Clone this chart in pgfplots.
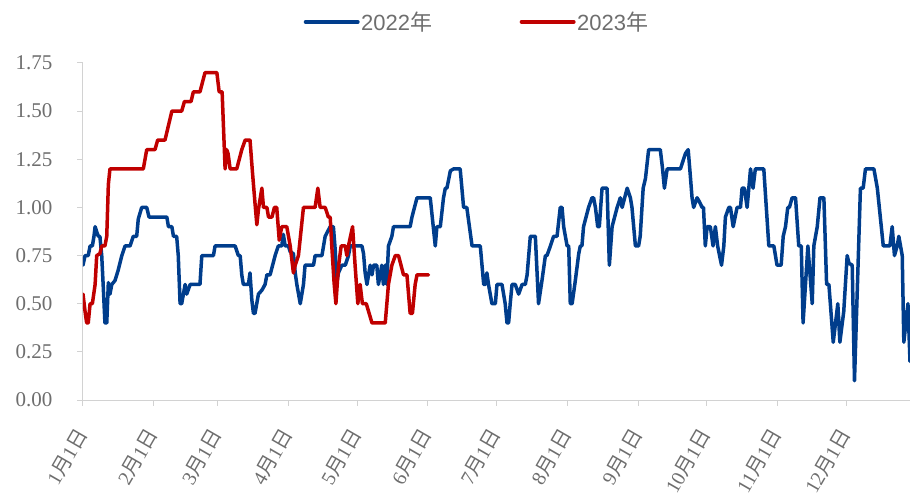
\documentclass[border=0pt]{standalone}
\usepackage{fontspec}
\setmainfont{Liberation Serif}
\newfontfamily\cjk{Noto Sans CJK SC}
\newfontfamily\lsans{Liberation Sans}
\usepackage{pgfplots}
\pgfplotsset{compat=1.18}
\definecolor{cblue}{RGB}{0,61,140}
\definecolor{cred}{RGB}{192,0,0}
\definecolor{tgray}{RGB}{110,110,110}
\definecolor{agray}{RGB}{210,210,210}
\newcommand{\md}[2]{#1{\cjk 月}#2{\cjk 日}}
\begin{document}
\begin{tikzpicture}
\begin{axis}[
  scale only axis, width=827bp, height=337bp,
  xmin=0, xmax=362, ymin=0, ymax=1.75,
  axis lines*=left,
  axis line style={agray, line width=1bp},
  tick style={agray, line width=1bp},
  tick align=outside, major tick length=5.5bp,
  ytick={0,0.25,0.5,0.75,1,1.25,1.5,1.75},
  /pgf/number format/fixed, /pgf/number format/fixed zerofill, /pgf/number format/precision=2,
  /pgf/number format/assume math mode=true,
  y tick label style={font=\fontsize{21bp}{24bp}\selectfont, text=tgray, inner sep=0pt, anchor=east, xshift=-25bp},
  xtick={0,31,59,90,120,151,181,212,243,273,304,334},
  xticklabels={\md{1}{1},\md{2}{1},\md{3}{1},\md{4}{1},\md{5}{1},\md{6}{1},\md{7}{1},\md{8}{1},\md{9}{1},\md{10}{1},\md{11}{1},\md{12}{1}},
  x tick label style={font=\fontsize{20bp}{24bp}\selectfont, text=tgray, inner sep=0pt, xshift=-1bp, yshift=-25bp, rotate=60, anchor=east},
  legend style={at={(0.476,1.122)}, anchor=center, draw=none, fill=none, legend columns=2,
    font=\lsans\fontsize{22bp}{26bp}\selectfont, text=tgray,
    /tikz/every even column/.append style={column sep=86bp},
    nodes={inner sep=1.5bp}},
  legend image code/.code={\draw[#1, line width=4bp] (0bp,0bp) -- (52bp,0bp);},
  every axis plot/.append style={line width=3.5bp, line join=round, line cap=round},
]
\addplot[cblue] coordinates {(0,0.70)(0.9,0.75)(2.3,0.75)(3.1,0.80)(4.1,0.80)(4.8,0.85)(5.3,0.90)(6.1,0.87)(6.7,0.85)(7.4,0.85)(8.2,0.75)(8.9,0.58)(9.6,0.40)(10.4,0.40)(11.1,0.61)(11.8,0.55)(12.6,0.60)(14.0,0.62)(15.3,0.67)(17.0,0.75)(18.4,0.80)(20.6,0.80)(22.0,0.85)(23.5,0.85)(24.2,0.94)(25.7,1.00)(27.9,1.00)(28.9,0.95)(36.7,0.95)(37.4,0.90)(38.9,0.90)(39.6,0.85)(41.0,0.85)(41.7,0.75)(42.5,0.50)(43.2,0.50)(44.7,0.60)(45.4,0.55)(46.9,0.60)(51.2,0.60)(52.0,0.75)(57.1,0.75)(57.8,0.80)(66.6,0.80)(68.0,0.75)(68.8,0.75)(69.5,0.65)(70.2,0.60)(72.4,0.60)(73.1,0.66)(73.9,0.52)(74.6,0.45)(75.3,0.45)(76.8,0.55)(78.3,0.57)(79.7,0.60)(80.5,0.65)(81.9,0.65)(84.1,0.75)(85.5,0.80)(87.0,0.80)(87.7,0.86)(88.5,0.80)(89.9,0.80)(90.7,0.77)(92.1,0.76)(92.9,0.66)(93.6,0.60)(95.1,0.50)(95.8,0.55)(96.5,0.60)(97.2,0.70)(100.9,0.70)(101.6,0.75)(104.6,0.75)(105.3,0.80)(106.0,0.85)(108.2,0.90)(109.6,0.90)(110.4,0.78)(111.1,0.61)(111.8,0.66)(113.3,0.70)(114.8,0.70)(116.2,0.75)(117.0,0.80)(122.1,0.80)(122.8,0.76)(123.5,0.66)(124.3,0.60)(125.0,0.65)(125.7,0.70)(126.5,0.65)(127.2,0.70)(128.6,0.70)(129.3,0.60)(130.1,0.65)(130.8,0.70)(131.5,0.60)(132.3,0.70)(133.0,0.60)(133.7,0.80)(135.2,0.85)(135.9,0.90)(143.2,0.90)(144.0,0.95)(146.2,1.05)(152.0,1.05)(152.7,0.97)(154.2,0.80)(154.9,0.90)(156.4,0.90)(157.8,1.05)(158.6,1.10)(159.3,1.10)(160.8,1.19)(162.2,1.20)(165.1,1.20)(166.6,1.00)(168.0,1.00)(170.3,0.80)(173.9,0.80)(175.4,0.60)(176.1,0.60)(176.8,0.66)(177.5,0.60)(179.0,0.50)(180.5,0.50)(181.2,0.60)(183.4,0.60)(184.8,0.50)(185.6,0.40)(186.3,0.40)(187.0,0.50)(187.8,0.60)(189.2,0.60)(190.7,0.55)(192.2,0.60)(193.6,0.60)(194.4,0.65)(195.8,0.85)(198.0,0.85)(199.4,0.50)(200.9,0.62)(202.4,0.75)(203.1,0.75)(204.6,0.80)(206.0,0.85)(207.5,0.85)(208.9,1.00)(209.7,1.00)(210.4,0.90)(211.9,0.80)(212.6,0.80)(213.3,0.50)(214.1,0.50)(215.5,0.62)(217.0,0.76)(217.7,0.80)(218.4,0.80)(219.1,0.90)(221.3,1.00)(222.8,1.05)(223.5,1.05)(224.3,1.00)(225.3,0.90)(226.0,0.90)(227.2,1.10)(229.4,1.10)(230.4,0.70)(231.6,0.90)(233.8,1.00)(235.2,1.05)(236.0,1.00)(238.2,1.10)(239.6,1.05)(240.3,1.00)(241.8,0.80)(243.2,0.80)(243.9,0.85)(245.2,1.10)(246.2,1.15)(247.6,1.30)(252.7,1.30)(253.6,1.21)(254.5,1.10)(255.7,1.20)(261.5,1.20)(263.7,1.28)(264.9,1.30)(265.6,1.20)(266.6,1.05)(267.3,1.00)(268.8,1.05)(269.8,1.03)(271.0,1.00)(271.6,1.00)(272.4,0.80)(273.2,0.90)(274.6,0.90)(275.8,0.80)(276.8,0.90)(277.8,0.80)(279.5,0.70)(280.5,0.80)(281.2,0.95)(282.7,1.00)(283.4,1.00)(284.6,0.90)(286.3,1.00)(287.8,1.00)(288.5,1.10)(289.5,1.10)(290.7,1.00)(292.2,1.20)(293.3,1.10)(294.3,1.20)(298.0,1.20)(300.2,0.80)(302.4,0.80)(303.8,0.70)(305.6,0.70)(306.5,0.85)(307.5,0.90)(308.5,1.00)(309.2,1.00)(310.4,1.05)(311.9,1.05)(313.3,0.80)(314.4,0.80)(315.2,0.40)(317.3,0.80)(319.2,0.50)(319.9,0.80)(321.4,0.90)(322.6,1.05)(324.3,1.05)(325.5,0.60)(326.5,0.60)(328.4,0.30)(330.4,0.50)(331.3,0.30)(333.0,0.46)(334.5,0.75)(335.3,0.71)(336.7,0.70)(337.7,0.10)(340.3,1.10)(341.5,1.10)(342.5,1.20)(346.2,1.20)(347.7,1.10)(350.3,0.80)(353.2,0.80)(354.2,0.90)(355.2,0.75)(356.4,0.80)(357.1,0.85)(358.6,0.75)(359.3,0.30)(361.1,0.50)(362.0,0.20)};
\addlegendentry{2022{\cjk 年}}
\addplot[cred] coordinates {(0,0.55)(0.9,0.46)(1.6,0.40)(2.3,0.40)(3.1,0.50)(4.1,0.50)(5.3,0.60)(6.0,0.75)(7.4,0.76)(8.2,0.80)(9.6,0.80)(10.4,0.85)(11.1,1.12)(11.8,1.20)(26.4,1.20)(27.9,1.30)(31.5,1.30)(32.7,1.35)(35.9,1.35)(38.9,1.50)(43.2,1.50)(44.4,1.55)(47.3,1.55)(48.3,1.60)(51.2,1.60)(53.4,1.70)(58.6,1.70)(59.6,1.60)(60.9,1.60)(62.2,1.20)(62.9,1.30)(63.5,1.28)(64.4,1.20)(67.3,1.20)(69.5,1.30)(71.0,1.35)(73.1,1.35)(74.2,1.18)(75.3,1.02)(76.1,0.91)(76.8,0.99)(78.3,1.10)(79.0,1.00)(80.5,1.00)(81.2,0.95)(82.7,0.95)(83.8,1.00)(84.8,1.00)(85.9,0.83)(87.0,0.90)(89.2,0.90)(90.7,0.80)(92.1,0.66)(92.9,0.70)(94.3,0.75)(96.5,1.00)(101.6,1.00)(102.8,1.10)(103.8,1.00)(106.0,1.00)(107.4,0.95)(108.2,0.95)(108.9,0.80)(109.9,0.61)(110.7,0.50)(111.8,0.69)(113.0,0.80)(114.8,0.80)(115.5,0.75)(116.2,0.80)(118.0,0.90)(119.1,0.70)(120.3,0.50)(121.3,0.60)(122.3,0.50)(124.0,0.50)(126.5,0.40)(132.3,0.40)(133.7,0.60)(135.2,0.70)(136.7,0.75)(138.1,0.75)(140.3,0.65)(141.8,0.65)(142.5,0.55)(143.2,0.45)(144.2,0.45)(145.4,0.60)(146.2,0.65)(151.2,0.65)};
\addlegendentry{2023{\cjk 年}}
\end{axis}
\pgfresetboundingbox
\path[use as bounding box] (-83bp,-97bp) rectangle (827bp,400bp);
\end{tikzpicture}
\end{document}
